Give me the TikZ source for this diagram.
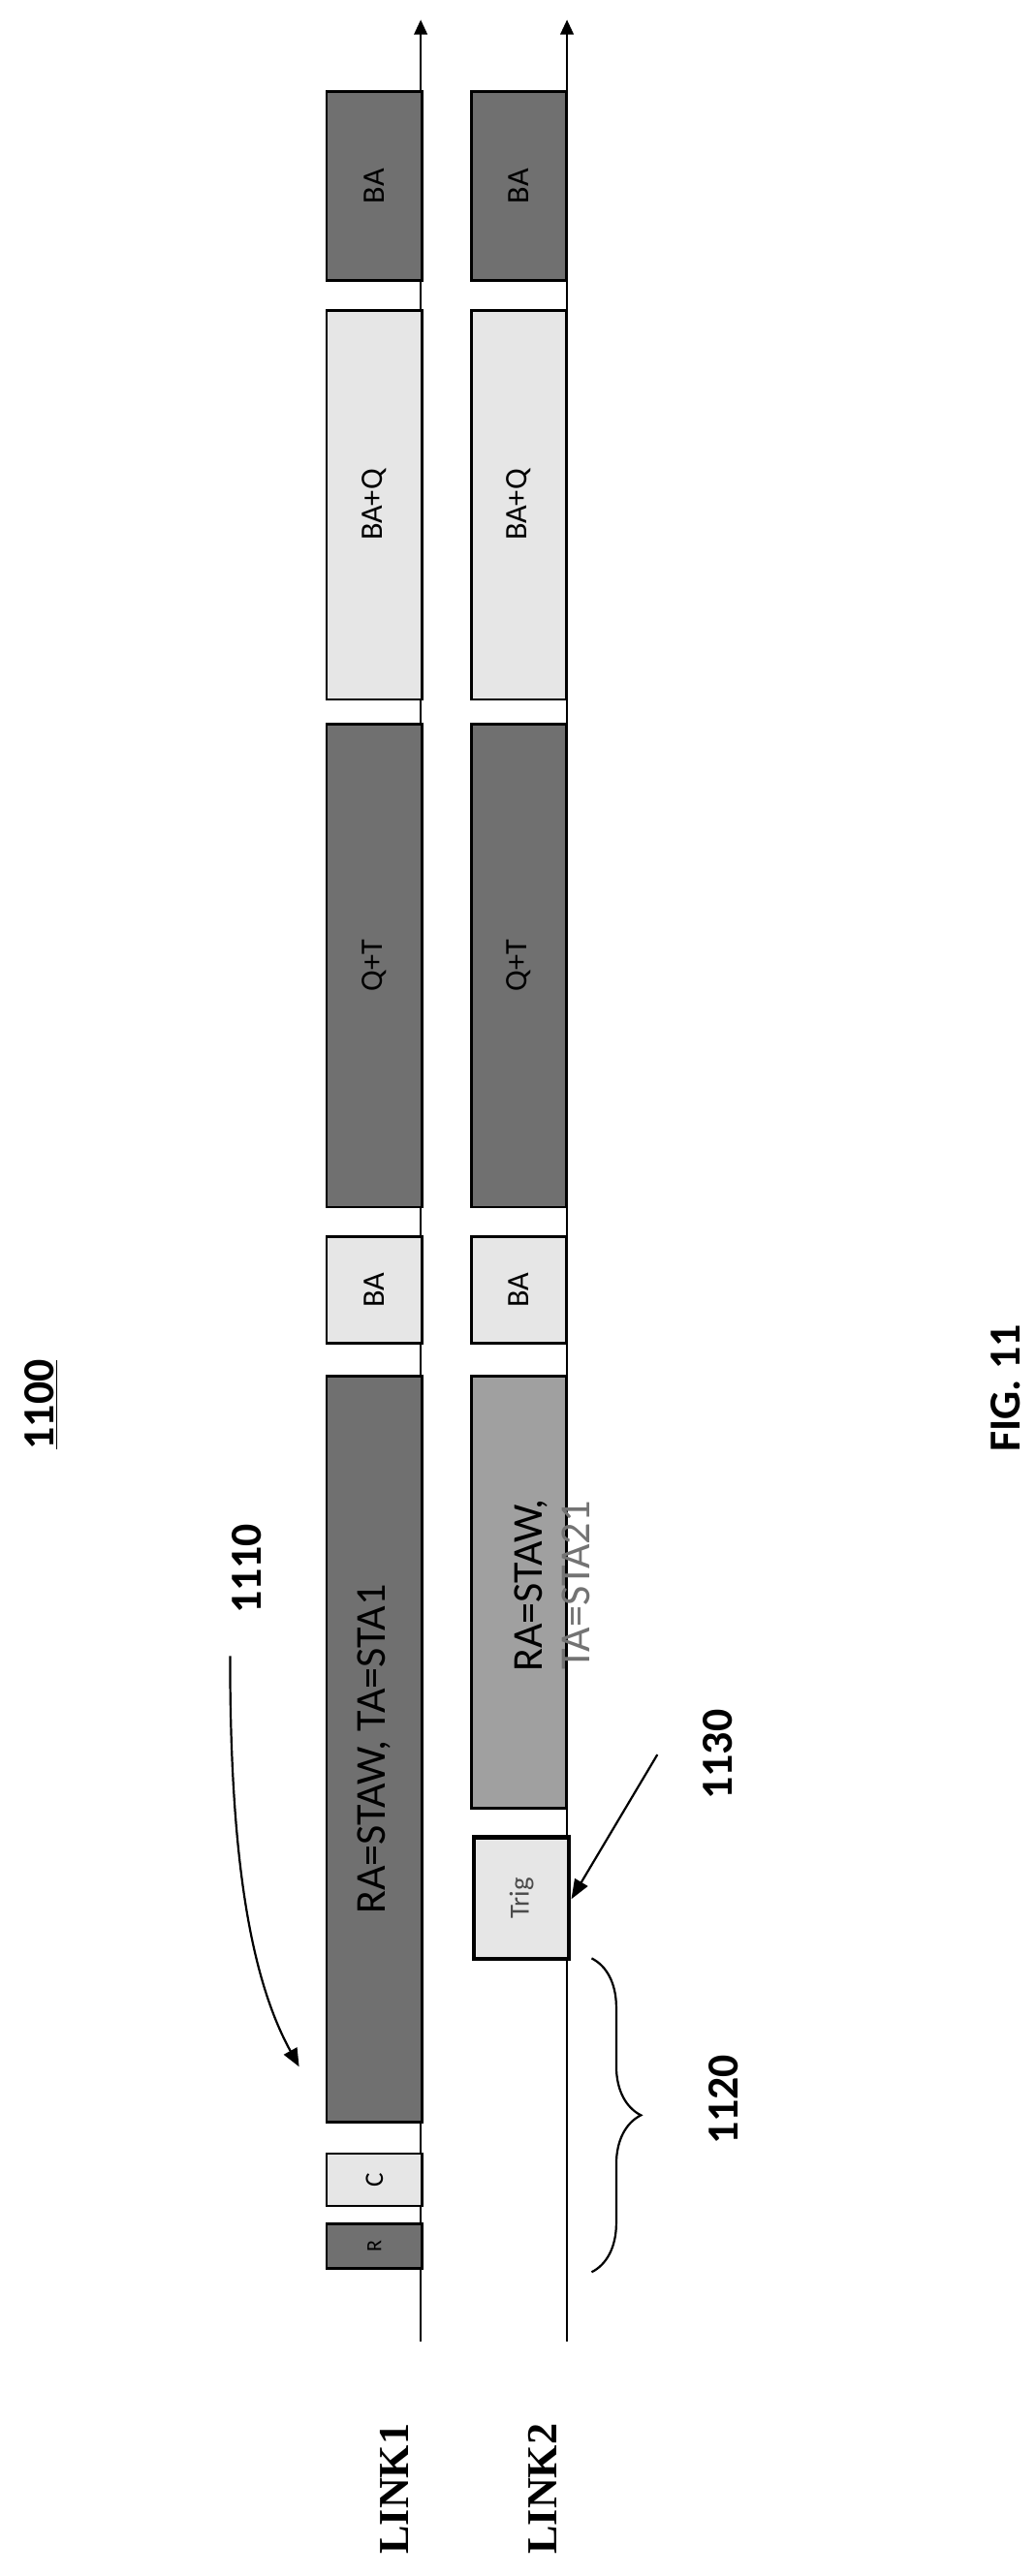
\documentclass[tikz,border=0pt]{standalone}
\usepackage{fontspec}
\setmainfont{Carlito}
\newfontfamily\serifb{Liberation Serif}
\usetikzlibrary{arrows.meta,decorations.pathreplacing}
\definecolor{dk}{HTML}{707070}
\definecolor{lt}{HTML}{E6E6E6}
\definecolor{md}{HTML}{A0A0A0}
\begin{document}
\begin{tikzpicture}[x=1pt,y=-1pt,
  fr/.style={draw=black,line width=1.6pt,inner sep=0pt,minimum width=58pt,anchor=north west},
  dkbox/.style={fr,fill=dk},
  ltbox/.style={fr,fill=lt},
  lbl/.style={font=\bfseries\fontsize{27}{29}\selectfont,rotate=90},
  axis/.style={line width=1.3pt,-{Triangle[length=9pt,width=8pt]}}]
\useasboundingbox (0,0) rectangle (630,1568);
% axes
\coordinate (a1s) at (256,1425); \coordinate (a1e) at (256,12);
\coordinate (a2s) at (345,1425); \coordinate (a2e) at (345,12);
\draw[axis] (a1s) -- (a1e);
\draw[axis] (a2s) -- (a2e);
% link1
\newcommand\bx[6]{\node[#1,minimum height=#4-#3] (#2) at (#5,#3) {\rotatebox{90}{#6}};}
\bx{dkbox}{r1}{1353}{1380}{198}{\fontsize{13}{14}\selectfont R}
\bx{ltbox}{c1}{1310}{1342}{198}{\fontsize{16}{18}\selectfont C}
\bx{dkbox}{ra1}{837}{1291}{198}{\fontsize{26}{28}\selectfont RA=STAW, TA=STA1}
\bx{ltbox}{ba1}{752}{817}{198}{\fontsize{19}{20}\selectfont BA}
\bx{dkbox}{qt1}{440}{734}{198}{\fontsize{19}{20}\selectfont Q+T}
\bx{ltbox}{bq1}{188}{425}{198}{\fontsize{19}{20}\selectfont BA+Q}
\bx{dkbox}{bb1}{55}{170}{198}{\fontsize{19}{20}\selectfont BA}
% link2
\node[fr,fill=lt,line width=2.6pt,minimum height=74,minimum width=58] (trig) at (287,1117) {\rotatebox{90}{\fontsize{17}{18}\selectfont\color{black!70}Trig}};
\node[fr,fill=md,minimum height=263] (ra2) at (286,837) {};
\node[rotate=90,align=center,font=\fontsize{26}{29}\selectfont] (ra2t) at (336,965) {RA=STAW,\\\textcolor{black!55}{TA=STA21}};
\bx{ltbox}{ba2}{752}{817}{286}{\fontsize{19}{20}\selectfont BA}
\bx{dkbox}{qt2}{440}{734}{286}{\fontsize{19}{20}\selectfont Q+T}
\bx{ltbox}{bq2}{188}{425}{286}{\fontsize{19}{20}\selectfont BA+Q}
\bx{dkbox}{bb2}{55}{170}{286}{\fontsize{19}{20}\selectfont BA}
% labels
\node[lbl] (n1100) at (25,855) {\underline{1100}};
\node[lbl] (n1110) at (150,955) {1110};
\node[lbl] (n1130) at (437,1068) {1130};
\node[lbl] (n1120) at (440,1278) {1120};
\node[lbl] (fig) at (612,845) {FIG. 11};
\node[rotate=90,font=\serifb\bfseries\fontsize{26}{27}\selectfont] (l1) at (240,1515) {LINK1};
\node[rotate=90,font=\serifb\bfseries\fontsize{26}{27}\selectfont] (l2) at (330,1515) {LINK2};
% arrows
\coordinate (c1110) at (140,1008);
\coordinate (c1110e) at (182,1258);
\draw[line width=1.3pt,-{Triangle[length=11pt,width=9pt]}] (c1110) .. controls (140,1120) and (150,1200) .. (c1110e);
\coordinate (c1130) at (400,1068);
\draw[line width=1.3pt,-{Triangle[length=12pt,width=9pt]}] (c1130) -- (trig.east |- 0,1156);
\draw[line width=1.3pt,decorate,decoration={brace,amplitude=30pt,aspect=0.5}] (360,1192) -- (360,1383);
\end{tikzpicture}
\end{document}
